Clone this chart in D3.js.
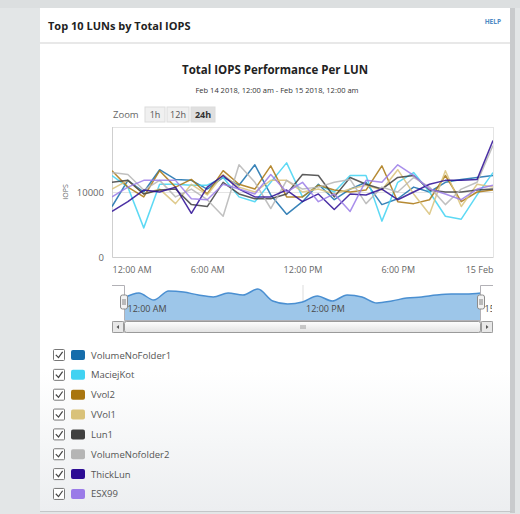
<!DOCTYPE html>
<html>
<head>
<meta charset="utf-8">
<script src="https://cdn.jsdelivr.net/npm/d3@7"></script>
<style>
  body { margin: 0; background: #e3e6e7; font-family: "Open Sans", sans-serif; }
  svg { display: block; }
</style>
</head>
<body>
<div id="chart"></div>
<script>
// Hours after Feb 14 2018, 12:00 am
const hourOffsets = [0, 1, 2, 3, 4, 5, 6, 7, 8, 9, 10, 11, 12, 13, 14, 15, 16, 17, 18, 19, 20, 21, 22, 23, 24];

const seriesNames = ['VolumeNoFolder1', 'MaciejKot', 'Vvol2', 'VVol1', 'Lun1', 'VolumeNofolder2', 'ThickLun', 'ESX99'];
const seriesColors = ['#166dab', '#41d2f2', '#a9750f', '#d9c27a', '#404040', '#b5b5b5', '#2c0c94', '#9a7be8'];

const volumeNoFolder1 = [7760, 11790, 10000, 13430, 11940, 11790, 10450, 12240, 11050, 14180, 9550, 6570, 8510, 11190, 8810, 10450, 11490, 8060, 8960, 10750, 10000, 11490, 11940, 12240, 12540];
const maciejKot = [12540, 10750, 4480, 11190, 11190, 11050, 11050, 12240, 9250, 8510, 11490, 14480, 9250, 11050, 10000, 12540, 12540, 5520, 11490, 12990, 10000, 6270, 5820, 9550, 12990];
const vvol2 = [13280, 10750, 9250, 13280, 10750, 11940, 9700, 13280, 11190, 10450, 14030, 9250, 9250, 11050, 10300, 10000, 10300, 14030, 8510, 8210, 8810, 12540, 8510, 10000, 10300];
const vvol1 = [10450, 11790, 9700, 10450, 8210, 11190, 9550, 12690, 10750, 10000, 11790, 11790, 10000, 10450, 9700, 10450, 11050, 10300, 13430, 9700, 6570, 13280, 7760, 11190, 10750];
const lun1 = [11490, 11790, 9700, 10300, 10450, 8060, 7760, 11490, 9700, 8960, 8960, 9700, 12690, 12540, 9250, 12240, 11190, 10450, 12240, 12540, 10300, 10000, 10000, 10300, 10450];
const volumeNofolder2 = [12990, 12690, 10300, 11790, 9250, 10450, 8810, 6270, 14180, 11490, 7460, 11790, 10450, 10750, 11490, 11940, 8210, 10750, 10000, 12240, 10750, 8060, 10450, 11490, 17160];
const thickLun = [7010, 8510, 10300, 10000, 10750, 6720, 10750, 12540, 10450, 9250, 9250, 10300, 8510, 9700, 7310, 9700, 9550, 10450, 8810, 10000, 11190, 11790, 11790, 11940, 17910];
const esx99 = [9250, 10750, 11790, 11790, 11790, 8960, 8810, 11190, 10450, 9700, 12690, 10000, 11490, 8510, 9700, 7010, 11790, 11490, 14180, 12540, 10450, 9700, 8810, 10450, 11040];

const seriesValues = [volumeNoFolder1, maciejKot, vvol2, vvol1, lun1, volumeNofolder2, thickLun, esx99];

// Navigator overview series
const navigatorValues = [7330, 9000, 6670, 9670, 9330, 8330, 7670, 9000, 8330, 10330, 6330, 5330, 6000, 8000, 6330, 8330, 7670, 5670, 6330, 7330, 7670, 8330, 8670, 8670, 9000];

const xTickHours = [0, 6, 12, 18, 24];
const xTickLabels = ['12:00 AM', '6:00 AM', '12:00 PM', '6:00 PM', '15 Feb'];
const navTickHours = [0, 12, 24];
const navTickLabels = ['12:00 AM', '12:00 PM', '15 Feb'];
const yTicks = [0, 10000, 20000];
const yTickLabels = ['0', '10000', ''];
const zoomButtons = ['1h', '12h', '24h'];

const startTime = new Date(2018, 1, 14, 0, 0);
const toDate = h => new Date(startTime.getTime() + h * 3600 * 1000);

const width = 520;
const height = 514;

const svg = d3.select('#chart')
    .append('svg')
    .attr('width', width)
    .attr('height', height);

const defs = svg.append('defs');
const panelGrad = defs.append('linearGradient')
    .attr('id', 'panelGrad').attr('x1', 0).attr('x2', 0).attr('y1', 0).attr('y2', 1);
panelGrad.append('stop').attr('offset', '0%').attr('stop-color', '#ffffff');
panelGrad.append('stop').attr('offset', '72%').attr('stop-color', '#ffffff');
panelGrad.append('stop').attr('offset', '100%').attr('stop-color', '#eceef0');

const thumbGrad = defs.append('linearGradient')
    .attr('id', 'thumbGrad').attr('x1', 0).attr('x2', 0).attr('y1', 0).attr('y2', 1);
thumbGrad.append('stop').attr('offset', '0%').attr('stop-color', '#fefefe');
thumbGrad.append('stop').attr('offset', '100%').attr('stop-color', '#e2e2e2');

// Page background and panel
svg.append('rect').attr('width', width).attr('height', height).attr('fill', '#e3e6e7');
svg.append('rect').attr('width', width).attr('height', 8).attr('fill', '#dcdfe0');
svg.append('rect').attr('x', 510).attr('y', 8).attr('width', 5).attr('height', 505).attr('fill', '#c9cbcd');
svg.append('rect').attr('x', 40).attr('y', 8).attr('width', 470).attr('height', 503).attr('fill', 'url(#panelGrad)');
svg.append('line').attr('x1', 40).attr('x2', 512).attr('y1', 511.5).attr('y2', 511.5).attr('stroke', '#c4c6c8');

// Panel header
svg.append('text')
    .attr('x', 48).attr('y', 30)
    .style('font-size', '11px').style('font-weight', 'bold').attr('fill', '#222')
    .text('Top 10 LUNs by Total IOPS');
svg.append('text')
    .attr('x', 501).attr('y', 24).attr('text-anchor', 'end')
    .style('font-size', '6.5px').style('font-weight', 'bold').attr('fill', '#4f8ac4')
    .text('HELP');
svg.append('line')
    .attr('x1', 40).attr('x2', 510).attr('y1', 43).attr('y2', 43)
    .attr('stroke', '#e8e8e8').attr('stroke-width', 2);

// Chart titles
svg.append('text')
    .attr('x', 275).attr('y', 74).attr('text-anchor', 'middle')
    .style('font-size', '11.5px').style('font-weight', 'bold').attr('fill', '#222')
    .text('Total IOPS Performance Per LUN');
svg.append('text')
    .attr('x', 277).attr('y', 93).attr('text-anchor', 'middle')
    .style('font-size', '7.5px').attr('fill', '#333')
    .text('Feb 14 2018, 12:00 am - Feb 15 2018, 12:00 am');

// Zoom buttons
svg.append('text')
    .attr('x', 113).attr('y', 118)
    .style('font-size', '9.5px').attr('fill', '#666')
    .text('Zoom');
const btnX = [145, 167, 191];
const btnW = [20, 22, 24];
const btn = svg.selectAll('.zbtn')
    .data(zoomButtons)
    .enter()
    .append('g')
    .attr('class', 'zbtn')
    .attr('transform', (d, i) => `translate(${btnX[i]}, 107)`);
btn.append('rect')
    .attr('width', (d, i) => btnW[i]).attr('height', 15)
    .attr('fill', (d, i) => i === 2 ? '#e0e0e0' : '#f0f0f0')
    .attr('stroke', '#dcdcdc');
btn.append('text')
    .attr('x', (d, i) => btnW[i] / 2).attr('y', 11).attr('text-anchor', 'middle')
    .style('font-size', '9px')
    .style('font-weight', (d, i) => i === 2 ? 'bold' : 'normal')
    .attr('fill', (d, i) => i === 2 ? '#333' : '#555')
    .text(d => d);

// Main plot
const plot = { left: 112, right: 493, top: 127, bottom: 257 };

const xScale = d3.scaleTime()
    .domain([toDate(0), toDate(24)])
    .range([plot.left, plot.right]);

const yScale = d3.scaleLinear()
    .domain([0, 20000])
    .range([plot.bottom, plot.top]);

// Grid lines
svg.append('g')
    .attr('transform', `translate(${plot.left}, 0)`)
    .call(d3.axisLeft(yScale).tickValues(yTicks).tickSize(-(plot.right - plot.left)).tickFormat(''))
    .call(g => g.select('.domain').remove())
    .call(g => g.selectAll('line').attr('stroke', '#e4e4e4'));

svg.append('line')
    .attr('x1', plot.right + 0.5).attr('x2', plot.right + 0.5)
    .attr('y1', plot.top).attr('y2', plot.bottom)
    .attr('stroke', '#e4e4e4');
svg.append('line')
    .attr('x1', plot.left + 0.5).attr('x2', plot.left + 0.5)
    .attr('y1', plot.top).attr('y2', plot.bottom)
    .attr('stroke', '#cfcfcf');

// Y axis labels
svg.append('g')
    .attr('transform', `translate(${plot.left - 5}, 0)`)
    .call(d3.axisLeft(yScale).tickValues(yTicks).tickSize(0).tickFormat((d, i) => yTickLabels[i]))
    .call(g => g.select('.domain').remove())
    .call(g => g.selectAll('text')
        .style('font-family', '"Open Sans", sans-serif')
        .style('font-size', '9.5px').attr('fill', '#666'));

svg.append('text')
    .attr('transform', 'rotate(-90)')
    .attr('x', -192).attr('y', 68)
    .attr('text-anchor', 'middle')
    .style('font-size', '7px').attr('fill', '#666')
    .text('IOPS');

// X axis labels
svg.append('g')
    .attr('transform', `translate(0, ${plot.bottom})`)
    .call(d3.axisBottom(xScale).tickValues(xTickHours.map(toDate)).tickSize(0).tickPadding(10)
        .tickFormat((d, i) => xTickLabels[i]))
    .call(g => g.select('.domain').attr('stroke', '#cfcfcf'))
    .call(g => g.selectAll('text')
        .style('font-family', '"Open Sans", sans-serif')
        .style('font-size', '9px').attr('fill', '#666')
        .attr('text-anchor', (d, i) => i === 0 ? 'start' : (i === xTickHours.length - 1 ? 'end' : 'middle')));

// Series lines
defs.append('clipPath').attr('id', 'plotClip')
    .append('rect')
    .attr('x', plot.left).attr('y', plot.top)
    .attr('width', plot.right - plot.left).attr('height', plot.bottom - plot.top);

const line = d3.line()
    .x((d, i) => xScale(toDate(hourOffsets[i])))
    .y(d => yScale(d));

svg.append('g')
    .attr('clip-path', 'url(#plotClip)')
    .selectAll('.series')
    .data(seriesValues)
    .enter()
    .append('path')
    .attr('class', 'series')
    .attr('d', d => line(d))
    .attr('fill', 'none')
    .attr('stroke', (d, i) => seriesColors[i])
    .attr('stroke-width', 1.5)
    .attr('stroke-opacity', 0.85)
    .attr('stroke-linejoin', 'round');

// Navigator
const nav = { left: 124, right: 481, top: 285, bottom: 320 };

const navX = d3.scaleTime()
    .domain([toDate(0), toDate(24)])
    .range([nav.left, nav.right]);
const navY = d3.scaleLinear()
    .domain([0, 12000])
    .range([nav.bottom, nav.top - 1]);

svg.append('line')
    .attr('x1', navX(toDate(12)) + 0.5).attr('x2', navX(toDate(12)) + 0.5)
    .attr('y1', nav.top).attr('y2', nav.bottom)
    .attr('stroke', '#dddddd');

const navArea = d3.area()
    .x((d, i) => navX(toDate(hourOffsets[i])))
    .y0(nav.bottom)
    .y1(d => navY(d))
    .curve(d3.curveMonotoneX);

svg.append('path')
    .attr('d', navArea(navigatorValues))
    .attr('fill', '#9dc6e9');
svg.append('path')
    .attr('d', navArea.lineY1()(navigatorValues))
    .attr('fill', 'none')
    .attr('stroke', '#4a8fd1')
    .attr('stroke-width', 1.5);

defs.append('clipPath').attr('id', 'navClip')
    .append('rect')
    .attr('x', 112).attr('y', nav.top)
    .attr('width', 380).attr('height', 40);

svg.append('g')
    .attr('clip-path', 'url(#navClip)')
    .append('g')
    .attr('transform', `translate(0, ${nav.bottom - 14})`)
    .call(d3.axisBottom(navX).tickValues(navTickHours.map(toDate)).tickSize(0).tickPadding(0)
        .tickFormat((d, i) => navTickLabels[i]))
    .call(g => g.select('.domain').remove())
    .call(g => g.selectAll('text')
        .style('font-family', '"Open Sans", sans-serif')
        .style('font-size', '9px').attr('fill', '#4a4a4a')
        .attr('text-anchor', 'start').attr('dx', 3));

// Navigator outline
const outline = d3.path();
outline.moveTo(112, nav.top + 0.5);
outline.lineTo(nav.left + 0.5, nav.top + 0.5);
outline.lineTo(nav.left + 0.5, nav.bottom + 0.5);
outline.lineTo(nav.right - 0.5, nav.bottom + 0.5);
outline.lineTo(nav.right - 0.5, nav.top + 0.5);
outline.lineTo(493, nav.top + 0.5);
svg.append('path')
    .attr('d', outline.toString())
    .attr('fill', 'none')
    .attr('stroke', '#b2b1b6');

// Navigator handles
const handles = svg.selectAll('.handle')
    .data([nav.left, nav.right])
    .enter()
    .append('g')
    .attr('class', 'handle')
    .attr('transform', d => `translate(${d}, 302)`);
handles.append('rect')
    .attr('x', -3.5).attr('y', -7).attr('width', 7).attr('height', 14).attr('rx', 2)
    .attr('fill', '#f2f2f2').attr('stroke', '#8c8c8c');
handles.append('path')
    .attr('d', 'M-1,-3V3M1,-3V3')
    .attr('stroke', '#666').attr('stroke-width', 0.8);

// Scrollbar
const sb = { top: 321, h: 11 };
svg.append('rect')
    .attr('x', 112.5).attr('y', sb.top + 0.5).attr('width', 380).attr('height', sb.h)
    .attr('fill', '#eeeeee').attr('stroke', '#c8c8c8');
svg.append('rect')
    .attr('x', nav.left + 0.5).attr('y', sb.top + 0.5).attr('width', nav.right - nav.left - 1).attr('height', sb.h)
    .attr('rx', 2)
    .attr('fill', 'url(#thumbGrad)').attr('stroke', '#9a9a9a');
svg.append('path')
    .attr('d', `M301,${sb.top + 4}v4M303,${sb.top + 4}v4M305,${sb.top + 4}v4`)
    .attr('stroke', '#888').attr('stroke-width', 0.8);
[112.5, 481.5].forEach((bx, i) => {
    svg.append('rect')
        .attr('x', bx).attr('y', sb.top + 0.5).attr('width', 11).attr('height', sb.h)
        .attr('rx', 1)
        .attr('fill', '#e8e8e8').attr('stroke', '#9a9a9a');
    const cx = bx + 5.5;
    const cy = sb.top + 6;
    svg.append('path')
        .attr('d', i === 0
            ? `M${cx - 1.5},${cy}L${cx + 1},${cy - 2}L${cx + 1},${cy + 2}Z`
            : `M${cx + 1.5},${cy}L${cx - 1},${cy - 2}L${cx - 1},${cy + 2}Z`)
        .attr('fill', '#555');
});

// Legend
const legend = svg.selectAll('.legend')
    .data(seriesNames)
    .enter()
    .append('g')
    .attr('class', 'legend')
    .attr('transform', (d, i) => `translate(0, ${355 + i * 19.85})`);
legend.append('rect')
    .attr('x', 53.5).attr('y', -5.5).attr('width', 11).attr('height', 11).attr('rx', 1)
    .attr('fill', '#fff').attr('stroke', '#777');
legend.append('path')
    .attr('d', 'M55.8,-0.2L58.5,2.6L62.6,-3.2')
    .attr('fill', 'none').attr('stroke', '#444').attr('stroke-width', 1.2);
legend.append('rect')
    .attr('x', 71).attr('y', -5).attr('width', 14).attr('height', 10).attr('rx', 2)
    .attr('fill', (d, i) => seriesColors[i]);
legend.append('text')
    .attr('x', 91).attr('y', 3.5)
    .style('font-size', '9.5px').attr('fill', '#555')
    .text(d => d);
</script>
</body>
</html>
